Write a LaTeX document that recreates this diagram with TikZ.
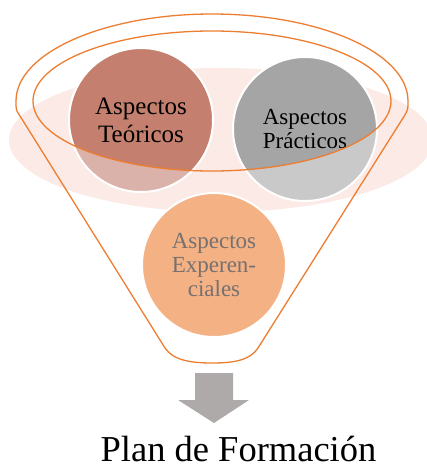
\documentclass[tikz,border=0pt]{standalone}
\usepackage{fontspec}
\setmainfont{Liberation Serif}
\usepackage{tikz}
\usetikzlibrary{positioning, calc}
\definecolor{fnOrange}{HTML}{ED7D31}
\definecolor{fnRose}{HTML}{FBEAE5}
\definecolor{fnRed}{HTML}{C47F6E}
\definecolor{fnRedLight}{HTML}{DBB2A9}
\definecolor{fnGray}{HTML}{A5A5A5}
\definecolor{fnGrayLight}{HTML}{C9C9C9}
\definecolor{fnPeach}{HTML}{F4B183}
\definecolor{fnText}{HTML}{767171}
\definecolor{fnArrow}{HTML}{AEAAAA}
\tikzset{
  fncircle/.style={circle, draw=white, line width=2pt, minimum size=144pt,
                   inner sep=0pt, align=center},
  fnline/.style={draw=fnOrange, line width=1.3pt},
}

\begin{document}
\begin{tikzpicture}[x=1pt, y=-1pt,
  big/.style={font=\fontsize{25}{28}\selectfont},
  mid/.style={font=\fontsize{23}{24}\selectfont}]
  \useasboundingbox (0,0) rectangle (427,466);
  \fill[fnRose] (221,140) ellipse [x radius=212, y radius=72];
  \coordinate (cTeo) at (141,120);
  \coordinate (cPra) at (305,129);
  \coordinate (cExp) at (214,265);
  % lower halves, then the part inside the rim
  \fill[fnRedLight] (cTeo) circle[radius=72];
  \fill[fnGrayLight] (cPra) circle[radius=72];
  \fill[fnPeach] (cExp) circle[radius=72];
  \begin{scope}
    \clip (212,101) ellipse [x radius=179, y radius=70];
    \fill[fnRed] (cTeo) circle[radius=72];
    \fill[fnGray] (cPra) circle[radius=72];
  \end{scope}
  \node[fncircle, big] (teo) at (cTeo) {Aspectos\\Teóricos};
  \node[fncircle, mid] (pra) at (cPra) {Aspectos\\Prácticos};
  \node[fncircle, mid, text=fnText] (exp) at (cExp) {Aspectos\\Experen-\\ciales};
  % funnel
  \draw[fnline] (20,116) .. controls (16,110) .. (16,101)
    arc[start angle=180, end angle=360, x radius=196, y radius=87]
    .. controls (408,110) .. (403,118) -- (258,348)
    .. controls (250,360) and (235,363) .. (212,363)
    .. controls (190,363) and (173,360) .. (165,348) -- cycle;
  \draw[fnline] (212,101) ellipse [x radius=179, y radius=70];
  % arrow and result
  \fill[fnArrow] (195,373) -- (233,373) -- (233,400) -- (249,400)
    -- (214,423) -- (178,400) -- (195,400) -- cycle;
  \node[anchor=base, inner sep=0pt, font=\fontsize{36.5}{40}\selectfont] (plan) at (238.5,461) {Plan de Formación};
\end{tikzpicture}
\end{document}
